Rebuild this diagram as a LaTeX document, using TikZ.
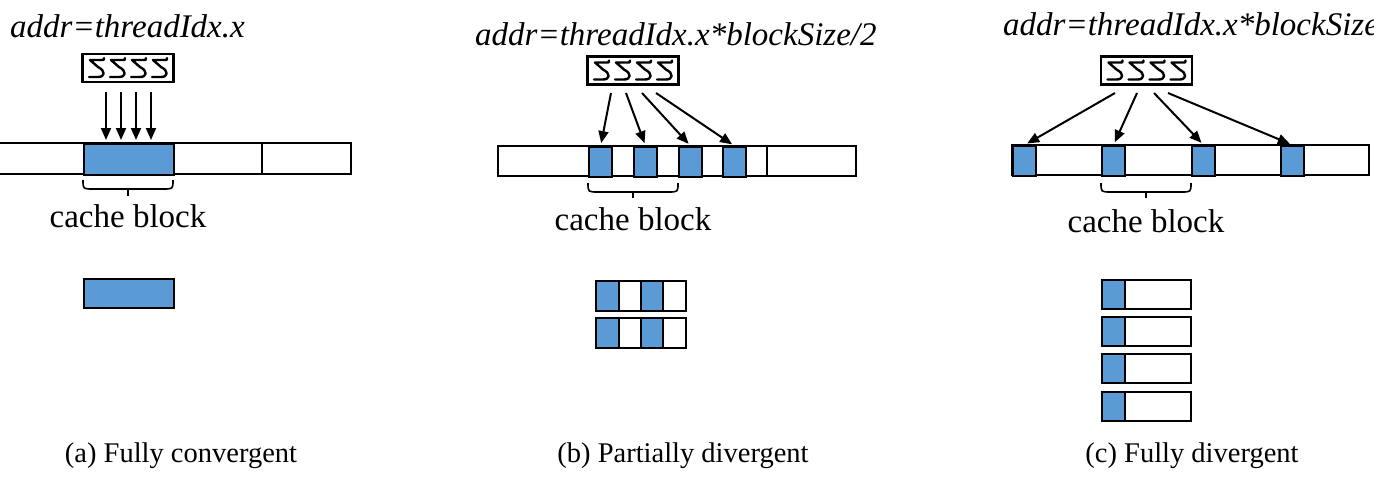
\documentclass[tikz,border=0pt]{standalone}
\usepackage{fontspec}
\setmainfont{Liberation Serif}
\usetikzlibrary{arrows.meta}
\definecolor{cellblue}{RGB}{91,155,213}
\tikzset{
  bar/.style={draw,line width=2.2pt},
  cell/.style={draw,line width=2.2pt,fill=cellblue,inner sep=0pt,anchor=north west,minimum width=23pt,minimum height=30pt},
  tbox/.style={draw,line width=2.2pt,inner sep=0pt,minimum width=91pt,minimum height=28pt},
  thr/.style={line width=2pt,-{Triangle[length=12pt,width=10pt]},shorten >=3pt},
  brace/.style={line width=1.6pt},
  title/.style={font=\fontsize{33}{40}\selectfont\itshape,inner sep=0pt,anchor=base west},
  lbl/.style={font=\fontsize{33}{40}\selectfont,inner sep=0pt,anchor=base},
  capt/.style={font=\fontsize{28.5}{34}\selectfont,inner sep=0pt,anchor=base},
  thread/.pic={\draw[line width=2.4pt,line join=round,line cap=round] (8,-10) .. controls (8,-8) .. (6,-8) -- (-6,-8) -- (2,-1) .. controls (10,3) and (9,9) .. (2,9) -- (-7,9);}
}
\begin{document}
\begin{tikzpicture}[x=1pt,y=-1pt]
\useasboundingbox (0,0) rectangle (1374,477);
% (a) fully convergent
\node[title] (ta) at (10,37) {addr=threadIdx.x};
\node[tbox] (wa) at (128,68) {};
\foreach \i in {0,...,3} \pic at ({96+21*\i},68) {thread};
\draw[bar] (-5,143) rectangle (351,174);
\foreach \x in {173,262} \draw[bar] (\x,143) -- (\x,174);
\node[cell,minimum width=90pt,minimum height=31pt] (ca) at (83,143) {};
\foreach \x [count=\k] in {106,121,136,151} {
  \coordinate (sa\k) at (\x,92);
  \draw[thr] (sa\k) -- (sa\k |- ca.north);
}
\draw[brace] (83,180) .. controls (83,189) .. (93,189) -- (163,189) .. controls (173,189) .. (173,180);
\draw[brace] (128,189) -- (128,196);
\node[lbl] (cba) at (128,227) {cache block};
\node[cell,minimum width=90pt,minimum height=29pt] (la) at (83,278) {};
\node[capt] (capa) at (181,462) {(a) Fully convergent};
% (b) partially divergent
\node[title] (tb) at (475,45) {addr=threadIdx.x*blockSize/2};
\node[tbox] (wb) at (633,70.5) {};
\foreach \i in {0,...,3} \pic at ({601+21*\i},70.5) {thread};
\draw[bar] (498,146) rectangle (856,176);
\draw[bar] (767,146) -- (767,176);
\foreach \x [count=\k] in {588,633,678,722}
  \node[cell] (cb\k) at (\x,146) {};
\foreach \x [count=\k] in {611,626,642,656} {
  \coordinate (sb\k) at (\x,93);
  \draw[thr] (sb\k) -- (cb\k.north);
}
\draw[brace] (588,183) .. controls (588,192) .. (598,192) -- (668,192) .. controls (678,192) .. (678,183);
\draw[brace] (633,192) -- (633,198);
\node[lbl] (cbb) at (633,230) {cache block};
\foreach \r [count=\k] in {280,317} {
  \node[cell,fill=white,minimum width=90pt] (rb\k) at (595,\r) {};
  \node[cell,minimum width=23pt] at (595,\r) {};
  \node[cell,minimum width=22pt] at (640,\r) {};
}
\node[capt] (capb) at (683,462) {(b) Partially divergent};
% (c) fully divergent
\node[title] (tc) at (1003,35) {addr=threadIdx.x*blockSize};
\node[tbox] (wc) at (1146.5,70.5) {};
\foreach \i in {0,...,3} \pic at ({1114.5+21*\i},70.5) {thread};
\draw[bar] (1012,145) rectangle (1369,175);
\foreach \x [count=\k] in {1012,1101,1191,1280}
  \node[cell] (cc\k) at (\x,145) {};
\foreach \x [count=\k] in {1115,1137,1154,1168} {
  \coordinate (sc\k) at (\x,93);
  \draw[thr] (sc\k) -- (cc\k.north);
}
\draw[brace] (1101,183) .. controls (1101,192) .. (1111,192) -- (1181,192) .. controls (1191,192) .. (1191,183);
\draw[brace] (1146,192) -- (1146,198);
\node[lbl] (cbc) at (1146,232) {cache block};
\foreach \r [count=\k] in {279,316,353,391} {
  \node[cell,fill=white,minimum width=89pt,minimum height=29pt] (rc\k) at (1101,\r) {};
  \node[cell,minimum width=23pt,minimum height=29pt] at (1101,\r) {};
}
\node[capt] (capc) at (1192,462) {(c) Fully divergent};
\end{tikzpicture}
\end{document}
